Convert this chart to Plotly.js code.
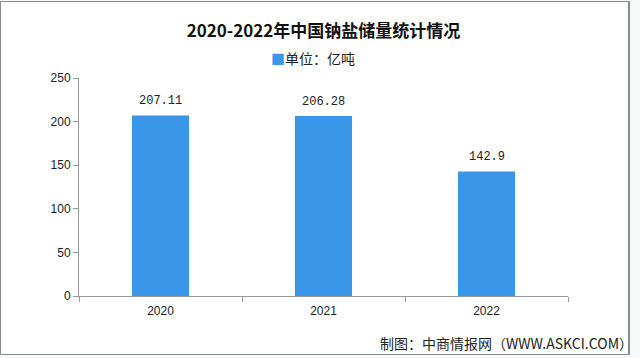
<!DOCTYPE html>
<html>
<head>
<meta charset="utf-8">
<script src="https://cdn.plot.ly/plotly-3.0.1.min.js"></script>
<style>
  html, body { margin: 0; padding: 0; background: #f7f8fa; }
  #wrap { position: absolute; left: 0; top: 0; width: 640px; height: 358px; }
  #chart { position: absolute; left: 0; top: 0; width: 640px; height: 358px; }
  #frame { position: absolute; left: 0; top: 1px; width: 627px; height: 352px;
           border: 1px solid #8c8c8c; border-right: 2px solid #8c8c8c; background: #ffffff; }
</style>
</head>
<body>
<div id="wrap">
  <div id="frame"></div>
  <div id="chart"></div>
</div>
<script>
const categories = ["2020", "2021", "2022"];
const values = [207.11, 206.28, 142.9];
const valueLabels = ["207.11", "206.28", "142.9"];
const seriesName = "单位：亿吨";
const yTicks = [0, 50, 100, 150, 200, 250];
const chartTitle = "2020-2022年中国钠盐储量统计情况";
const footer = "制图：中商情报网（WWW.ASKCI.COM）";

const cjk = "'Noto Sans CJK SC', 'Liberation Sans', sans-serif";
const barColor = "#3a96e8";

const trace = {
  type: "bar",
  x: categories,
  y: values,
  name: seriesName,
  marker: { color: barColor },
  hoverinfo: "none",
  showlegend: false
};

// category axis: annotation x given as the category index
const labelAnnotations = categories.map((c, i) => ({
  x: i, y: values[i], xref: "x", yref: "y",
  text: valueLabels[i],
  showarrow: false,
  yanchor: "bottom",
  yshift: 5,
  font: { family: "'Liberation Mono', 'DejaVu Sans Mono', monospace", size: 12, color: "#222" }
}));

const layout = {
  width: 640,
  height: 358,
  paper_bgcolor: "rgba(0,0,0,0)",
  plot_bgcolor: "rgba(0,0,0,0)",
  margin: { l: 79, r: 72, t: 78, b: 62 },
  bargap: 0.65,
  title: {
    text: "<b>" + chartTitle + "</b>",
    font: { family: cjk, size: 17, color: "#111" },
    x: 0.5, xanchor: "center", xref: "paper",
    y: 0.913, yref: "container", yanchor: "middle"
  },
  showlegend: false,
  xaxis: {
    type: "category",
    range: [-0.5, categories.length - 0.5],
    showline: true,
    linecolor: "#999",
    linewidth: 1,
    ticks: "outside",
    ticklen: 5,
    tickcolor: "#999",
    tickson: "boundaries",
    ticklabelstandoff: 4,
    showgrid: false,
    tickfont: { family: "'Liberation Sans', Arial, sans-serif", size: 12, color: "#222" },
    fixedrange: true
  },
  yaxis: {
    range: [0, 250],
    tickvals: yTicks,
    ticktext: yTicks.map(String),
    showline: true,
    linecolor: "#999",
    linewidth: 1,
    ticks: "outside",
    ticklen: 5,
    tickcolor: "#999",
    showgrid: false,
    zeroline: false,
    tickfont: { family: "'Liberation Sans', Arial, sans-serif", size: 12, color: "#222" },
    fixedrange: true
  },
  annotations: labelAnnotations.concat([
    {
      text: "<span style='color:" + barColor + "'>■</span>" + seriesName,
      xref: "paper", yref: "paper",
      x: 0.479, xanchor: "center",
      y: 1.092, yanchor: "middle",
      showarrow: false,
      font: { family: cjk, size: 14, color: "#222" }
    },
    {
      text: footer,
      xref: "paper", yref: "paper",
      x: 1.137, xanchor: "right",
      y: -0.216, yanchor: "middle",
      showarrow: false,
      font: { family: cjk, size: 14, color: "#222" }
    }
  ])
};

Plotly.newPlot("chart", [trace], layout, { displayModeBar: false, staticPlot: true });
</script>
</body>
</html>
